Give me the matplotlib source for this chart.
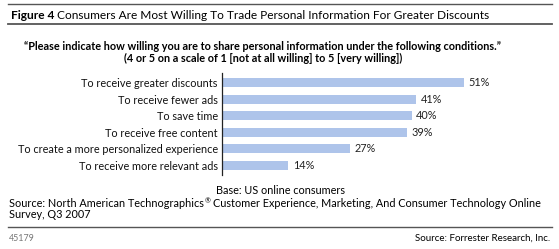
import matplotlib.pyplot as plt
from matplotlib.lines import Line2D

labels = ["To receive greater discounts", "To receive fewer ads", "To save time",
          "To receive free content", "To create a more personalized experience",
          "To receive more relevant ads"]
values = [51, 41, 40, 39, 27, 14]

plt.rcParams['font.family'] = ['Lato', 'DejaVu Sans']

W, H = 559, 249
fig = plt.figure(figsize=(W / 100, H / 100), dpi=100)
r = fig.canvas.get_renderer()

def fx(px):
    return px / W

def fy(py):
    return 1 - py / H

def right_edge(t):
    return t.get_window_extent(renderer=r).x1 / W

# rules
for y, lw in [(4.5, 1.0), (24.0, 1.3), (226.5, 1.0)]:
    fig.add_artist(Line2D([fx(8), fx(552)], [fy(y), fy(y)], color="#555555", lw=lw))

# title: bold "Figure 4" followed by plain text
fs_title = 8.6
t1 = fig.text(fx(11), fy(15.5), "Figure 4", fontsize=fs_title, fontweight="bold", va="center", ha="left")
fig.text(right_edge(t1) + fx(3), fy(15.5),
         "Consumers Are Most Willing To Trade Personal Information For Greater Discounts",
         fontsize=fs_title, va="center", ha="left")

fs = 7.8
fig.text(fx(263), fy(47), "\u201cPlease indicate how willing you are to share personal information under the following conditions.\u201d",
         fontsize=fs, fontweight="bold", ha="center", va="center")
fig.text(fx(263), fy(58), "(4 or 5 on a scale of 1 [not at all willing] to 5 [very willing])",
         fontsize=fs, fontweight="bold", ha="center", va="center")

ax = fig.add_axes([fx(222), fy(175), fx(4.74 * 60), (175 - 73) / H])
pos = list(range(len(values)))
ax.barh(pos, values, height=0.55, color="#AEC4EA", edgecolor="none")
for p, v in zip(pos, values):
    ax.text(v + 1.0, p, f"{v}%", va="center", ha="left", fontsize=fs, color="#222222")
ax.set_xlim(0, 60)
ax.set_ylim(len(values) - 0.4, -0.6)
ax.set_yticks(pos)
ax.set_yticklabels(labels, fontsize=fs, color="#111111")
ax.tick_params(axis="y", length=0, pad=3)
ax.set_xticks([])
for s in ["top", "right", "bottom"]:
    ax.spines[s].set_visible(False)
ax.spines["left"].set_color("#222222")
ax.spines["left"].set_linewidth(0.9)
ax.patch.set_alpha(0)

fig.text(fx(280), fy(190), "Base: US online consumers", fontsize=fs, ha="center", va="center")
s1 = fig.text(fx(9), fy(203), "Source: North American Technographics", fontsize=fs, ha="left", va="center")
s2 = fig.text(right_edge(s1) + fx(0.5), fy(201), "\u00ae", fontsize=5.0, ha="left", va="center")
fig.text(right_edge(s2) + fx(2.5), fy(203),
         "Customer Experience, Marketing, And Consumer Technology Online",
         fontsize=fs, ha="left", va="center")
fig.text(fx(9), fy(214), "Survey, Q3 2007", fontsize=fs, ha="left", va="center")
fig.text(fx(9), fy(238), "45179", fontsize=6.4, ha="left", va="center", color="#777777")
fig.text(fx(550), fy(238), "Source: Forrester Research, Inc.", fontsize=7.0, ha="right", va="center")

fig.savefig("out.png", dpi=100)
